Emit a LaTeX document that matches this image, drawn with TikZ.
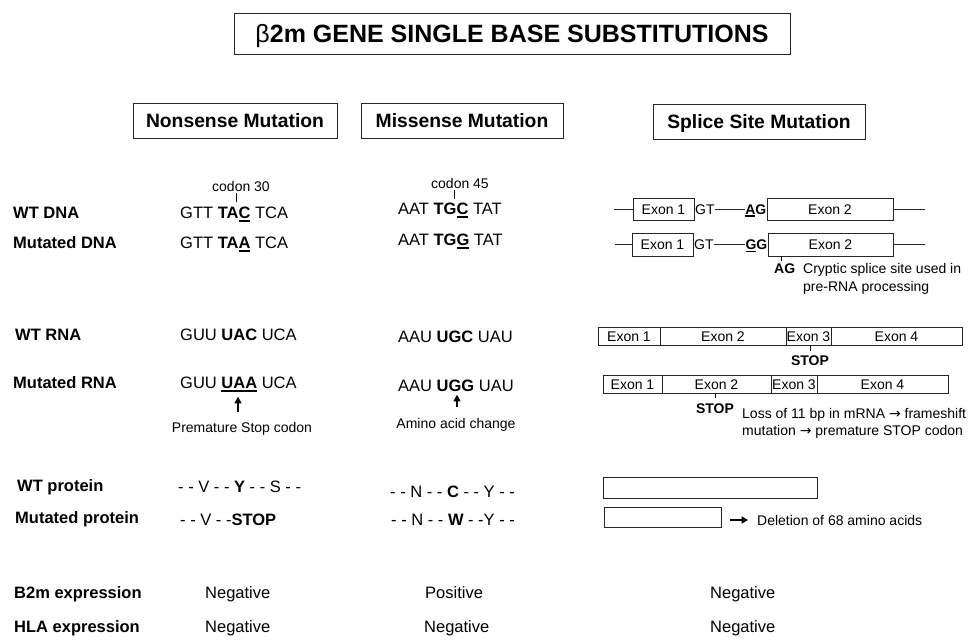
\documentclass[tikz,border=0pt]{standalone}
\usepackage{fontspec}
\setmainfont{Liberation Sans}
\newfontfamily\djv{DejaVu Sans}
\usetikzlibrary{arrows.meta}
\newcommand\ulx[1]{\setbox0\hbox{#1}\rlap{\rule[-2.8pt]{\wd0}{1.6pt}}\box0}
\begin{document}
\begin{tikzpicture}[x=1pt,y=-1pt,
  lab/.style={font=\bfseries\fontsize{16.5}{19}\selectfont, anchor=west, inner sep=0pt, text height=11.8pt, text depth=0pt},
  seq/.style={font=\fontsize{16.5}{19}\selectfont, anchor=west, inner sep=0pt, text height=11.8pt, text depth=0pt},
  sm/.style={font=\fontsize{14}{16}\selectfont, inner sep=0pt, text height=10pt, text depth=0pt},
  smb/.style={font=\bfseries\fontsize{14}{16}\selectfont, inner sep=0pt, text height=10pt, text depth=0pt},
  hdr/.style={draw=black!85, line width=0.8pt, font=\bfseries\fontsize{19.3}{22}\selectfont, minimum height=35pt, inner sep=0pt, text height=13.8pt, text depth=0pt},
  exon/.style={draw=black!85, line width=0.7pt, font=\fontsize{14}{16}\selectfont, inner sep=0pt, text height=10pt, text depth=0pt},
  wire/.style={line width=0.7pt, draw=black!85},
  tickl/.style={line width=0.6pt},
  arr/.style={line width=1.1pt, -{Triangle[length=6.5pt,width=7pt]}}
]
\useasboundingbox (0,0) rectangle (978,642);

% title
\node[draw=black!85, line width=0.9pt, minimum width=556pt, minimum height=41pt, inner sep=0pt,
      font=\bfseries\fontsize{25}{30}\selectfont, text height=18pt, text depth=0pt] (title) at (512,33.5)
      {{\mdseries β}2m GENE SINGLE BASE SUBSTITUTIONS};

% headers
\node[hdr, minimum width=204pt] (hnon) at (235,120.5) {Nonsense Mutation};
\node[hdr, minimum width=202pt] (hmis) at (462,120.5) {Missense Mutation};
\node[hdr, minimum width=212pt] (hspl) at (759,121.5) {Splice Site Mutation};

% row labels
\node[lab] (lwtdna) at (13,213) {WT DNA};
\node[lab] (lmdna) at (13,243) {Mutated DNA};
\node[lab] (lwtrna) at (15,335) {WT RNA};
\node[lab] (lmrna) at (13,383) {Mutated RNA};
\node[lab] (lwtp) at (17,486) {WT protein};
\node[lab] (lmp) at (15,518) {Mutated protein};
\node[lab] (lb2m) at (14,593) {B2m expression};
\node[lab] (lhla) at (14,627) {HLA expression};

% nonsense column
\node[sm] (c30) at (241,186) {codon 30};
\draw[tickl] ([xshift=-5pt,yshift=-2pt]c30.south) -- ++(0,9);
\node[seq] (nwtdna) at (180,213) {GTT \textbf{TA\ulx{C}} TCA};
\node[seq] (nmdna) at (180,243) {GTT \textbf{TA\ulx{A}} TCA};
\node[seq] (nwtrna) at (180,335) {GUU \textbf{UAC} UCA};
\node[seq] (nmrna) at (180,383) {GUU \textbf{\ulx{UAA}} UCA};
\node[sm] (prem) at (242,427) {Premature Stop codon};
\draw[arr] ([xshift=-4pt,yshift=10pt]prem.north) -- ([xshift=-4pt,yshift=25pt]prem.north);
\node[seq] (nwtp) at (178,487) {- - V - - \textbf{Y} - - S - -};
\node[seq] (nmp) at (180,520) {- - V - -\textbf{STOP}};
\node[seq] (nb2m) at (205,593) {Negative};
\node[seq] (nhla) at (205,627) {Negative};

% missense column
\node[sm] (c45) at (460,183) {codon 45};
\draw[tickl] ([xshift=-6pt,yshift=-2pt]c45.south) -- ++(0,9);
\node[seq] (mwtdna) at (398,209) {AAT \textbf{TG\ulx{C}} TAT};
\node[seq] (mmdna) at (398,240) {AAT \textbf{TG\ulx{G}} TAT};
\node[seq] (mwtrna) at (398,337) {AAU \textbf{UGC} UAU};
\node[seq] (mmrna) at (398,386) {AAU \textbf{UGG} UAU};
\node[sm] (amino) at (456,423) {Amino acid change};
\draw[arr] ([xshift=1pt,yshift=11pt]amino.north) -- ([xshift=1pt,yshift=23pt]amino.north);
\node[seq] (mwtp) at (390,492) {- - N - - \textbf{C} - - Y - -};
\node[seq] (mmp) at (391,520) {- - N - - \textbf{W} - -Y - -};
\node[seq] (mb2m) at (425,593) {Positive};
\node[seq] (mhla) at (424,627) {Negative};

% splice column: DNA
\coordinate (d1l) at (614,209);
\node[exon, minimum width=61pt, minimum height=22pt] (d1e1) at (663.5,209) {Exon 1};
\node[sm, anchor=west] (d1gt) at (695,209) {GT};
\node[smb, anchor=east] (d1ag) at (766.5,209) {\ulx{A}G};
\node[exon, minimum width=126pt, minimum height=22pt] (d1e2) at (830,209) {Exon 2};
\coordinate (d1r) at (925,209);
\draw[wire] (d1l) -- (d1e1);
\draw[wire] (d1gt) -- (d1ag);
\draw[wire] (d1e2) -- (d1r);

\coordinate (d2l) at (615,244.5);
\node[exon, minimum width=61pt, minimum height=23pt] (d2e1) at (662.5,244.5) {Exon 1};
\node[sm, anchor=west] (d2gt) at (694,244.5) {GT};
\node[smb, anchor=east] (d2gg) at (767.5,244.5) {\ulx{G}G};
\node[exon, minimum width=125pt, minimum height=23pt] (d2e2) at (830.5,244.5) {Exon 2};
\coordinate (d2r) at (925,244.5);
\draw[wire] (d2l) -- (d2e1);
\draw[wire] (d2gt) -- (d2gg);
\draw[wire] (d2e2) -- (d2r);
\draw[tickl] ([xshift=14pt]d2e2.south west) -- ++(0,5);
\node[smb, anchor=west] (cag) at (774,268) {AG};
\node[sm, anchor=west] (cry1) at (803,268) {Cryptic splice site used in};
\node[sm, anchor=west] (cry2) at (803,286) {pre-RNA processing};

% splice column: RNA
\node[exon, minimum width=62pt, minimum height=18pt] (r1e1) at (629,336) {Exon 1};
\node[exon, minimum width=126pt, minimum height=18pt] (r1e2) at (723,336) {Exon 2};
\node[exon, minimum width=45pt, minimum height=18pt] (r1e3) at (808.5,336) {Exon 3};
\node[exon, minimum width=131pt, minimum height=18pt] (r1e4) at (896.5,336) {Exon 4};
\node[smb] (stop1) at (810,360) {STOP};
\draw[tickl, shorten >=4pt] (r1e3.south -| stop1) -- (stop1);

\node[exon, minimum width=59pt, minimum height=18pt] (r2e1) at (632.5,384) {Exon 1};
\node[exon, minimum width=109pt, minimum height=18pt] (r2e2) at (716.5,384) {Exon 2};
\node[exon, minimum width=46pt, minimum height=18pt] (r2e3) at (794,384) {Exon 3};
\node[exon, minimum width=131pt, minimum height=18pt] (r2e4) at (882.5,384) {Exon 4};
\node[smb] (stop2) at (715,408) {STOP};
\draw[tickl, shorten >=5pt] (r2e2.south -| stop2) -- (stop2);
\node[sm, anchor=west] (loss1) at (742,413) {Loss of 11 bp in mRNA {\djv\fontsize{14}{15}\selectfont →} frameshift};
\node[sm, anchor=west] (loss2) at (742,430) {mutation {\djv\fontsize{14}{15}\selectfont →} premature STOP codon};

% splice column: protein
\node[draw=black!85, line width=0.8pt, minimum width=214pt, minimum height=21pt, inner sep=0pt] (pwt) at (710,487.5) {};
\node[draw=black!85, line width=0.8pt, minimum width=117pt, minimum height=20pt, inner sep=0pt] (pmut) at (662.5,517) {};
\node[sm, anchor=west] (del) at (757,520) {Deletion of 68 amino acids};
\draw[arr, shorten <=9pt, shorten >=9pt] (pmut.east |- del.west) -- (del.west);
\node[seq] (sb2m) at (710,593) {Negative};
\node[seq] (shla) at (710,627) {Negative};
\end{tikzpicture}
\end{document}
